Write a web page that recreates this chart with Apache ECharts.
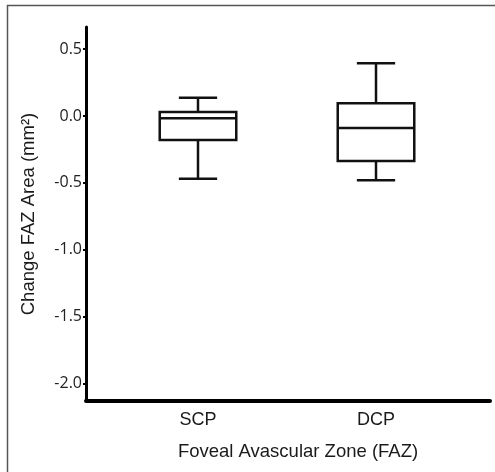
<!DOCTYPE html>
<html>
<head>
<meta charset="utf-8">
<script src="https://cdn.jsdelivr.net/npm/echarts@6/dist/echarts.min.js"></script>
<style>
  html, body { margin: 0; padding: 0; background: #fff; }
  #chart { width: 495px; height: 472px; }
</style>
</head>
<body>
<div id="chart"></div>
<script>
// box statistics per layer
const categories = ['SCP', 'DCP'];
const whiskerLow = [-0.47, -0.48];
const q1 = [-0.18, -0.337];
const median = [-0.017, -0.09];
const q3 = [0.03, 0.095];
const whiskerHigh = [0.137, 0.394];
const yTicks = [-2, -1.5, -1, -0.5, 0, 0.5];

const chart = echarts.init(document.getElementById('chart'));

const boxData = categories.map((c, i) => [i + 1, whiskerLow[i], q1[i], median[i], q3[i], whiskerHigh[i]]);

// box drawn through the axes, caps are half the box width
function renderBox(params, api) {
  const x = api.value(0);
  const boxHalf = api.size([0.215, 0])[0];
  const capHalf = boxHalf / 2;
  const pLow = api.coord([x, api.value(1)]);
  const pQ1 = api.coord([x, api.value(2)]);
  const pMed = api.coord([x, api.value(3)]);
  const pQ3 = api.coord([x, api.value(4)]);
  const pHigh = api.coord([x, api.value(5)]);
  const cx = pMed[0];
  const stroke = { stroke: '#111', lineWidth: 2.5, fill: null };
  return {
    type: 'group',
    children: [
      { type: 'rect', shape: { x: cx - boxHalf, y: pQ3[1], width: boxHalf * 2, height: pQ1[1] - pQ3[1] }, style: { stroke: '#111', lineWidth: 2.5, fill: '#fff' } },
      { type: 'line', shape: { x1: cx - boxHalf, y1: pMed[1], x2: cx + boxHalf, y2: pMed[1] }, style: stroke },
      { type: 'line', shape: { x1: cx, y1: pQ3[1], x2: cx, y2: pHigh[1] }, style: stroke },
      { type: 'line', shape: { x1: cx, y1: pQ1[1], x2: cx, y2: pLow[1] }, style: stroke },
      { type: 'line', shape: { x1: cx - capHalf, y1: pHigh[1], x2: cx + capHalf, y2: pHigh[1] }, style: stroke },
      { type: 'line', shape: { x1: cx - capHalf, y1: pLow[1], x2: cx + capHalf, y2: pLow[1] }, style: stroke }
    ]
  };
}

const option = {
  backgroundColor: '#fff',
  animation: false,
  graphic: [
    {
      type: 'polyline',
      shape: { points: [[7.5, 480], [7.5, 5.5], [500, 5.5]] },
      style: { stroke: '#555', lineWidth: 1.5, fill: null },
      silent: true
    }
  ],
  grid: { left: 86, right: 5, top: 27, bottom: 71 },
  xAxis: {
    type: 'value',
    min: 0.3708,
    max: 2.6404,
    splitLine: { show: false },
    axisLine: { show: true, onZero: false, lineStyle: { color: '#000', width: 4 } },
    axisTick: { show: false },
    axisLabel: {
      customValues: [1, 2],
      formatter: v => categories[Math.round(v) - 1],
      margin: 10,
      color: '#1a1a1a',
      fontSize: 18,
      fontFamily: 'Liberation Sans'
    },
    name: 'Foveal Avascular Zone (FAZ)',
    nameLocation: 'middle',
    nameGap: 41,
    nameTextStyle: { color: '#1a1a1a', fontSize: 18.5, fontFamily: 'Liberation Sans', padding: [0, 0, 0, 20] }
  },
  yAxis: {
    type: 'value',
    min: -2.13,
    max: 0.665,
    splitLine: { show: false },
    axisLine: { show: true, onZero: false, lineStyle: { color: '#000', width: 3 } },
    axisTick: { show: true, customValues: yTicks, length: 3, lineStyle: { color: '#000', width: 2 } },
    axisLabel: {
      customValues: yTicks,
      formatter: v => v.toFixed(1),
      margin: 4,
      color: '#222',
      fontSize: 16,
      fontFamily: 'Open Sans'
    },
    name: 'Change FAZ Area (mm²)',
    nameLocation: 'middle',
    nameGap: 48,
    nameTextStyle: { color: '#1a1a1a', fontSize: 18.5, fontFamily: 'Liberation Sans' }
  },
  series: [
    {
      type: 'custom',
      renderItem: renderBox,
      data: boxData,
      encode: { x: 0, y: [1, 2, 3, 4, 5] }
    }
  ]
};

chart.setOption(option);
</script>
</body>
</html>
